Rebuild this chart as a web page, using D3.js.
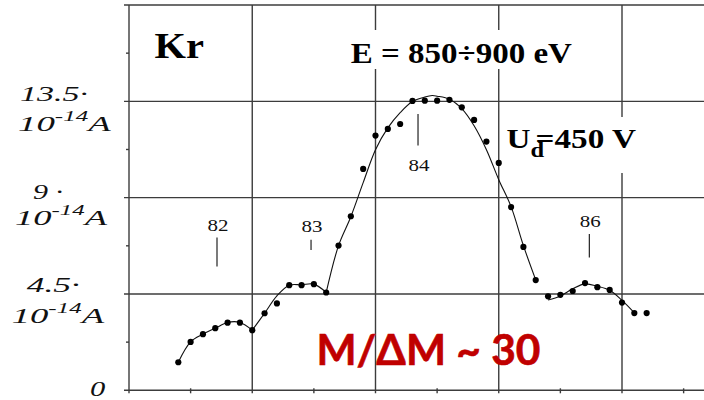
<!DOCTYPE html>
<html>
<head>
<meta charset="utf-8">
<script src="https://cdn.jsdelivr.net/npm/d3@7"></script>
<style>
  html, body { margin: 0; padding: 0; background: #fff; }
  svg { display: block; }
</style>
</head>
<body>
<svg id="chart" width="704" height="400"></svg>
<script>
// Kr ion current across the mass scan (units of 1e-14 A)
const scanStep = [4, 5, 6, 7, 8, 9, 10, 11, 12, 13, 14, 15, 16, 17, 18, 19, 20, 21, 22,
                  23, 24, 25, 26, 27, 28, 29, 30, 31, 32, 33, 34, 35, 36, 37, 38, 39, 40, 41, 42];
const ionCurrent = [1.31, 2.26, 2.62, 2.90, 3.16, 3.16, 2.81, 3.60, 4.06, 4.91, 4.91, 4.96, 4.57,
                    6.76, 8.13, 10.34, 11.90, 12.21, 12.44, 13.52, 13.53, 13.53, 13.57, 13.22,
                    12.63, 11.62, 10.62, 8.56, 6.70, 5.15, 4.39, 4.46, 4.64, 5.01, 4.82, 4.69,
                    4.10, 3.61, 3.61];

// smoothed envelope, one piece per peak (pieces meet at the valleys)
const fit82Step = [4, 5, 6, 7, 8, 9, 10];
const fit82Value = [1.31, 2.26, 2.62, 2.90, 3.17, 3.17, 2.81];
const fit83Step = [10, 11, 12, 13, 14, 15, 16];
const fit83Value = [2.81, 3.60, 4.41, 4.91, 4.93, 4.96, 4.57];
const fit84Step = [16, 17, 18, 19, 20, 21, 22, 23, 24, 24.6, 25, 26, 27, 28, 29, 30, 31, 32, 33];
const fit84Value = [4.57, 6.76, 8.11, 9.70, 11.24, 12.26, 12.97, 13.49, 13.70, 13.77, 13.74,
                    13.60, 13.16, 12.36, 11.24, 9.84, 8.58, 6.76, 5.16];
const fit86Step = [34, 35, 36, 37, 38, 39, 40, 41];
const fit86Value = [4.22, 4.41, 4.74, 4.97, 4.86, 4.67, 4.20, 3.62];

// axes
const xGrid = [10, 20, 30, 40, 50];
const xMinor = [5, 15, 25, 35, 45];
const yGrid = [4.5, 9, 13.5, 18];
const yMinor = [2.25, 6.75, 11.25, 15.75];
const yTickValues = [0, 4.5, 9, 13.5];
const yTickText = ["0", "4.5\u00B7", "9 \u00B7", "13.5\u00B7"];
const yUnitMain = "10";
const yUnitExp = "-14";
const yUnitTail = "A";

// isotope markers
const isotopeName = ["82", "83", "84", "86"];
const isotopeStep = [7.14, 14.77, 23.45, 37.35];
const isotopeMarkTop = [7.14, 7.03, 12.91, 7.30];
const isotopeMarkBottom = [5.78, 6.56, 11.44, 6.20];
const isotopeNameLevel = [7.42, 7.39, 10.23, 7.61];

// text
const elementName = "Kr";
const energyText = "E = 850\u00F7900 eV";
const voltageMain = "U";
const voltageSub = "d";
const voltageTail = "=450 V";
const resolutionText = "M/\u0394M ~ 30";

// ---------- layout ----------
const W = 704, H = 400;
const svg = d3.select("#chart");
const x = d3.scaleLinear().domain([0, 50]).range([129, 745.25]);
const y = d3.scaleLinear().domain([0, 18]).range([390.3, 5]);
const gridColor = "#3c3c3c";
const serif = "'Liberation Serif', 'Times New Roman', 'DejaVu Serif', serif";

// stretch a text node horizontally so it spans [x0, x0 + width]
function fitWidth(sel, x0, width) {
  const b = sel.node().getBBox();
  const k = width / b.width;
  sel.attr("transform", `translate(${x0},0) scale(${k},1) translate(${-b.x},0)`);
}

const grid = svg.append("g").attr("stroke", gridColor).attr("stroke-width", 1.4).attr("fill", "none");

// horizontal grid lines (with small ticks left of the axis)
grid.selectAll("line.h").data(yGrid).join("line")
  .attr("x1", x(0) - 5).attr("x2", W)
  .attr("y1", d => y(d)).attr("y2", d => y(d));
// vertical grid lines
grid.selectAll("line.v").data(xGrid).join("line")
  .attr("x1", d => x(d)).attr("x2", d => x(d))
  .attr("y1", y(18)).attr("y2", y(0) + 3);
// axes
grid.append("line").attr("x1", x(0)).attr("x2", x(0)).attr("y1", y(18)).attr("y2", y(0) + 3);
grid.append("line").attr("x1", x(0) - 5).attr("x2", W).attr("y1", y(0)).attr("y2", y(0));
// minor ticks
grid.selectAll("line.mx").data(xMinor).join("line")
  .attr("x1", d => x(d)).attr("x2", d => x(d))
  .attr("y1", y(0) - 2).attr("y2", y(0) + 3);
grid.selectAll("line.my").data(yMinor).join("line")
  .attr("x1", x(0) - 3).attr("x2", x(0))
  .attr("y1", d => y(d)).attr("y2", d => y(d));

// white boxes behind the annotation text
svg.append("rect").attr("x", 348).attr("y", 30).attr("width", 228).attr("height", 39).attr("fill", "#fff");
svg.append("rect").attr("x", 504).attr("y", 117).attr("width", 136).attr("height", 56).attr("fill", "#fff");

// y tick labels: value line + unit line
const yLab = svg.append("g").attr("font-family", serif).attr("font-style", "italic").attr("fill", "#111");
const valueBox = [[90, 16, 5.5], [26.7, 53.3, -2.3], [33, 30, 1], [20, 68, -0.7]];
const unitBox = [null, [11.7, 93.3, 29], [15, 93, 27], [18, 93.7, 29.5]];
yTickValues.forEach((v, i) => {
  const t = yLab.append("text").attr("x", 0).attr("y", y(v) + valueBox[i][2])
    .attr("font-size", i === 0 ? 21 : 22).text(yTickText[i]);
  fitWidth(t, valueBox[i][0], valueBox[i][1]);
  if (unitBox[i]) {
    const u = yLab.append("text").attr("x", 0).attr("y", y(v) + unitBox[i][2]).attr("font-size", 22);
    u.append("tspan").text(yUnitMain);
    u.append("tspan").attr("font-size", 15).attr("dy", -10).text(yUnitExp);
    u.append("tspan").attr("dy", 10).text(yUnitTail);
    fitWidth(u, unitBox[i][0], unitBox[i][1]);
  }
});

// element label
const kr = svg.append("text").attr("x", 0).attr("y", 57.7)
  .attr("font-family", serif).attr("font-weight", "bold").attr("font-size", 36)
  .attr("fill", "#000").text(elementName);
fitWidth(kr, 154.5, 49.5);

// beam energy
const en = svg.append("text").attr("x", 0).attr("y", 63.3)
  .attr("font-family", serif).attr("font-weight", "bold").attr("font-size", 29.5)
  .attr("fill", "#000").text(energyText);
fitWidth(en, 350.7, 221.3);

// deflection voltage: "U" with subscript "d", the "=" tucked above the subscript
const ud = svg.append("text").attr("x", 0).attr("y", 148)
  .attr("font-family", serif).attr("font-weight", "bold").attr("font-size", 27).attr("fill", "#000");
ud.append("tspan").text(voltageMain);
ud.append("tspan").attr("font-size", 20).attr("dy", 9).text(voltageSub);
ud.append("tspan").attr("dy", -9).attr("dx", -7).text(voltageTail);
fitWidth(ud, 506.5, 130);

// isotope marks
const iso = svg.append("g");
iso.selectAll("line").data(isotopeStep).join("line")
  .attr("x1", d => x(d)).attr("x2", d => x(d))
  .attr("y1", (d, i) => y(isotopeMarkTop[i])).attr("y2", (d, i) => y(isotopeMarkBottom[i]))
  .attr("stroke", "#222").attr("stroke-width", 1.2);
isotopeName.forEach((n, i) => {
  const t = iso.append("text").attr("x", 0).attr("y", y(isotopeNameLevel[i]))
    .attr("font-family", serif).attr("font-size", 16).attr("fill", "#111").text(n);
  fitWidth(t, x(isotopeStep[i]) + 1 - 10.5, 21);
});

// smoothed envelope
const line = d3.line().x(d => x(d[0])).y(d => y(d[1])).curve(d3.curveCatmullRom.alpha(0.5));
const pieces = [
  [fit82Step, fit82Value], [fit83Step, fit83Value],
  [fit84Step, fit84Value], [fit86Step, fit86Value]
];
svg.append("g").selectAll("path").data(pieces).join("path")
  .attr("d", p => line(p[0].map((s, i) => [s, p[1][i]])))
  .attr("fill", "none").attr("stroke", "#111").attr("stroke-width", 1.1);

// measured points
svg.append("g").selectAll("circle").data(scanStep).join("circle")
  .attr("cx", d => x(d)).attr("cy", (d, i) => y(ionCurrent[i]))
  .attr("r", 3.1).attr("fill", "#000");

// resolving power
const res = svg.append("text").attr("x", 0).attr("y", 365)
  .attr("font-family", "Lato, 'Open Sans', 'Noto Sans', sans-serif").attr("font-weight", "bold")
  .attr("font-size", 42).attr("fill", "#C00000").attr("stroke", "#C00000").attr("stroke-width", 0.6)
  .text(resolutionText);
fitWidth(res, 316.5, 224);
</script>
</body>
</html>
